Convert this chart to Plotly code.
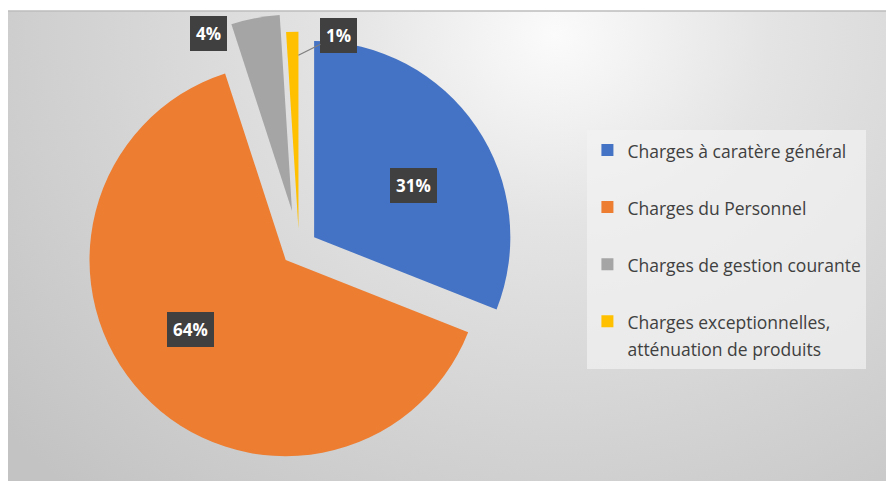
import math
import base64
import plotly.graph_objects as go

# data
categories = [
    "Charges à caratère général",
    "Charges du Personnel",
    "Charges de gestion courante",
    "Charges exceptionnelles,<br>atténuation de produits",
]
values = [31, 64, 4, 1]

colors = ["#4472C4", "#ED7D31", "#A5A5A5", "#FFC000"]
pulls = [0.093, 0.093, 0.19, 0.1]

W, H = 886, 481
M = dict(l=0, r=0, t=14, b=0)
dom_x = [0, 0.675]
plot_w = W - M["l"] - M["r"]
plot_h = H - M["t"] - M["b"]

# same geometry plotly uses for a pie, so the label boxes follow the slices
cx = M["l"] + plot_w * (dom_x[0] + dom_x[1]) / 2
cy = M["t"] + plot_h / 2
rad = min(plot_w * (dom_x[1] - dom_x[0]), plot_h) / 2 / (1 + max(pulls))
total = sum(values)


def to_paper(px, py):
    return (px - M["l"]) / plot_w, 1 - (py - M["t"]) / plot_h


def slice_point(i, frac, dist):
    # frac: 0..1 across slice i (clockwise), dist: radius units from the pulled apex
    start = sum(values[:i]) / total
    mid = 2 * math.pi * (start + 0.5 * values[i] / total)
    a = 2 * math.pi * (start + frac * values[i] / total)
    apx = cx + pulls[i] * rad * math.sin(mid)
    apy = cy - pulls[i] * rad * math.cos(mid)
    return to_paper(apx + dist * rad * math.sin(a), apy - dist * rad * math.cos(a))


# legend: every entry is two lines tall (a blank one if needed) so the
# entries get the wide spacing; the names are drawn smaller than the line height
def legend_label(c):
    lines = c.split("<br>")
    body = "<br>".join(f'<span style="font-size:17.5px">{s}</span>' for s in lines)
    return body + ("" if len(lines) > 1 else "<br>")


legend_labels = [legend_label(c) for c in categories]

fig = go.Figure()
fig.add_trace(go.Pie(
    labels=legend_labels,
    values=values,
    sort=False,
    direction="clockwise",
    rotation=0,
    pull=pulls,
    marker=dict(colors=colors, line=dict(width=0)),
    textinfo="none",
    hoverinfo="percent",
    domain=dict(x=dom_x, y=[0, 1]),
))

box = dict(bgcolor="#404040", bordercolor="#404040", borderpad=5,
           font=dict(family="Open Sans", size=17, color="white", weight="bold"))
pct = [f"{v / total:.0%}" for v in values]

annotations = []
# inside labels
for i, f, d in [(0, 0.56, 0.57), (1, 0.53, 0.6)]:
    x, y = slice_point(i, f, d)
    annotations.append(dict(x=x, y=y, xref="paper", yref="paper", text=pct[i],
                            showarrow=False, xanchor="center", yanchor="middle", **box))
# 4 % : box sits left of the grey slice's outer corner
x, y = slice_point(2, 0.0, 1.0)
annotations.append(dict(x=x, y=y, xref="paper", yref="paper", text=pct[2],
                        showarrow=False, xanchor="right", yanchor="top",
                        xshift=-4, yshift=8, **box))
# 1 % : leader line from the yellow slice
x, y = slice_point(3, 1.0, 0.88)
annotations.append(dict(x=x, y=y, xref="paper", yref="paper", text=pct[3],
                        showarrow=True, arrowhead=0, arrowwidth=1.3,
                        arrowcolor="#7f7f7f", ax=40, ay=-20, standoff=0, **box))

# background panel: grey with a soft radial light spot near the top
gx0, gy0, gx1, gy1 = 8, 11, 886, 481
gw, gh = gx1 - gx0, gy1 - gy0
svg = (
    f'<svg xmlns="http://www.w3.org/2000/svg" width="{gw}" height="{gh}">'
    f'<defs><radialGradient id="g" gradientUnits="userSpaceOnUse" '
    f'cx="{555 - gx0}" cy="{35 - gy0}" r="620" '
    f'gradientTransform="translate({555 - gx0} {35 - gy0}) scale(1.15 1) translate({gx0 - 555} {gy0 - 35})">'
    '<stop offset="0" stop-color="#fbfbfb"/>'
    '<stop offset="0.3" stop-color="#e4e4e4"/>'
    '<stop offset="0.65" stop-color="#d3d3d3"/>'
    '<stop offset="1" stop-color="#c3c3c3"/>'
    '</radialGradient></defs>'
    '<rect width="100%" height="100%" fill="url(#g)"/></svg>'
)
bg_src = "data:image/svg+xml;base64," + base64.b64encode(svg.encode()).decode()
px0, py0 = to_paper(gx0, gy0)
px1, py1 = to_paper(gx1, gy1)

fig.add_layout_image(dict(
    source=bg_src, xref="paper", yref="paper",
    x=px0, y=py0, sizex=px1 - px0, sizey=py0 - py1,
    xanchor="left", yanchor="top", sizing="stretch", layer="below",
))

fig.update_layout(
    width=W,
    height=H,
    margin=M,
    paper_bgcolor="white",
    showlegend=True,
    legend=dict(
        x=0.663, y=1 - (130 - M["t"]) / plot_h,
        xanchor="left", yanchor="top",
        bgcolor="rgba(242,242,242,0.7)",
        font=dict(family="Open Sans", size=20.8, color="#404040"),
        valign="top",
    ),
    shapes=[dict(type="line", xref="paper", yref="paper", x0=px0, x1=px1,
                 y0=py0, y1=py0, line=dict(color="#bdbdbd", width=1.5))],
    annotations=annotations,
)

# page body margin would shift the fixed-size figure
fig.write_html("out.html", config={"displayModeBar": False},
               post_script="document.body.style.margin='0';")
